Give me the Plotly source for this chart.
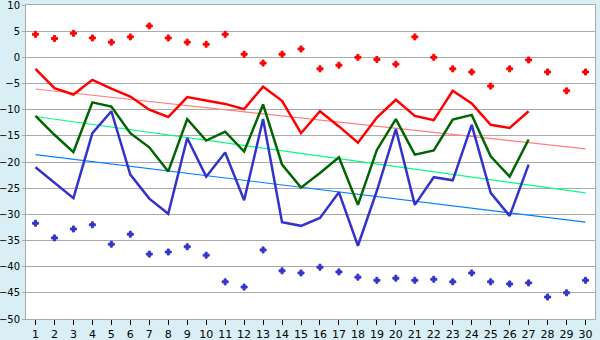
import plotly.graph_objects as go

days = list(range(1, 31))
line_days = list(range(1, 28))

# daily maxima (red markers) and minima (blue markers)
top_points = [4.4, 3.6, 4.6, 3.7, 2.9, 3.9, 6.0, 3.7, 2.9, 2.5,
              4.4, 0.6, -1.1, 0.6, 1.6, -2.2, -1.5, 0.0, -0.4, -1.3,
              3.9, 0.0, -2.2, -2.8, -5.5, -2.2, -0.5, -2.8, -6.4, -2.8]
bottom_points = [-31.7, -34.5, -32.8, -32.0, -35.7, -33.8, -37.6, -37.2, -36.2, -37.8,
                 -42.9, -43.9, -36.8, -40.8, -41.2, -40.1, -41.0, -42.0, -42.6, -42.2,
                 -42.6, -42.4, -42.9, -41.2, -42.9, -43.3, -43.1, -45.8, -45.0, -42.6]

# series lines
red_line = [-2.2, -5.9, -7.1, -4.3, -6.0, -7.5, -10.0, -11.4, -7.6, -8.3,
            -8.9, -9.9, -5.6, -8.3, -14.5, -10.3, -13.2, -16.3, -11.5, -8.1,
            -11.2, -12.0, -6.4, -8.8, -12.9, -13.5, -10.3]
green_line = [-11.2, -14.8, -18.1, -8.6, -9.4, -14.5, -17.2, -21.8, -11.8, -15.9,
              -14.2, -18.0, -9.0, -20.5, -24.9, -22.1, -19.1, -28.2, -17.7, -11.8,
              -18.6, -17.8, -11.9, -11.0, -18.9, -22.8, -15.7]
blue_line = [-21.0, -24.0, -26.9, -14.5, -10.3, -22.4, -27.0, -29.9, -15.4, -22.8,
             -18.2, -27.3, -11.8, -31.5, -32.2, -30.7, -25.8, -36.0, -25.5, -13.7,
             -28.2, -22.9, -23.5, -12.9, -25.9, -30.3, -20.5]

# linear trend endpoints (day 1, day 30)
trend_days = [1, 30]
red_trend = [-6.05, -17.5]
green_trend = [-11.3, -25.9]
blue_trend = [-18.6, -31.5]

y_ticks = list(range(-50, 11, 5))

fig = go.Figure()

for ys, color in [(red_trend, "#ff7f7f"), (green_trend, "#00ff80"), (blue_trend, "#0080ff")]:
    fig.add_trace(go.Scatter(x=trend_days, y=ys, mode="lines",
                             line=dict(color=color, width=1.2), hoverinfo="skip"))

for ys, color in [(red_line, "#ff0000"), (green_line, "#006400"), (blue_line, "#3333cc")]:
    fig.add_trace(go.Scatter(x=line_days, y=ys, mode="lines",
                             line=dict(color=color, width=2.5)))

fig.add_trace(go.Scatter(x=days, y=top_points, mode="markers",
                         marker=dict(symbol="cross", size=5, color="#ff0000",
                                     line=dict(width=1, color="#ff0000"))))
fig.add_trace(go.Scatter(x=days, y=bottom_points, mode="markers",
                         marker=dict(symbol="cross", size=5, color="#3333cc",
                                     line=dict(width=1, color="#3333cc"))))

fig.update_layout(
    width=600, height=340,
    margin=dict(l=26, r=5, t=5, b=21),
    paper_bgcolor="#d9eff5",
    plot_bgcolor="#ffffff",
    showlegend=False,
    font=dict(family="DejaVu Sans", size=11, color="#000000"),
)
fig.update_xaxes(
    range=[0.5, 30.5], tickmode="array", tickvals=days, ticktext=[str(d) for d in days],
    showgrid=False, zeroline=False, automargin=False,
    showline=True, linecolor="#aaaaaa", linewidth=1, mirror=True,
    ticks="outside", ticklen=5, tickcolor="#000000", tickwidth=1,
    tickfont=dict(size=11),
)
fig.update_yaxes(
    range=[-50, 10.0001], tickmode="array", tickvals=y_ticks,
    showgrid=True, gridcolor="#aaaaaa", gridwidth=1, zeroline=False, automargin=False,
    showline=True, linecolor="#aaaaaa", linewidth=1, mirror=True,
    ticks="outside", ticklen=3, tickcolor="#aaaaaa",
    ticklabeloverflow="allow", ticklabelstandoff=0,
    tickfont=dict(size=10),
)

fig.write_html("out.html")
